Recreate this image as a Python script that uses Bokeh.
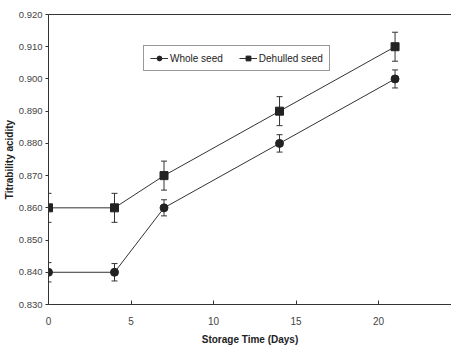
from bokeh.plotting import figure
from bokeh.models import (Range1d, LinearAxis, FixedTicker, PrintfTickFormatter,
                          Whisker, ColumnDataSource, Legend, LegendItem)
from bokeh.embed import file_html
from bokeh.resources import INLINE

days = [0, 4, 7, 14, 21]
whole = [0.840, 0.840, 0.860, 0.880, 0.900]
whole_err = [0.003, 0.0027, 0.0025, 0.0027, 0.0028]
dehulled = [0.860, 0.860, 0.870, 0.890, 0.910]
dehulled_err = [0.0045, 0.0045, 0.0045, 0.0045, 0.0045]
y_ticks = [0.83, 0.84, 0.85, 0.86, 0.87, 0.88, 0.89, 0.90, 0.91, 0.92]
x_ticks = [0, 5, 10, 15, 20]

C = "#333333"
FONT = "Liberation Sans"

p = figure(width=451, height=347, output_backend="svg", toolbar_location=None,
           x_range=Range1d(0, 24.42), y_range=Range1d(0.83, 0.92),
           min_border_left=48, min_border_right=0, min_border_top=14, min_border_bottom=42)
p.xgrid.visible = False
p.ygrid.visible = False
p.outline_line_color = None
p.background_fill_color = "white"

p.xaxis.ticker = FixedTicker(ticks=x_ticks)
p.yaxis.ticker = FixedTicker(ticks=y_ticks)
p.yaxis.formatter = PrintfTickFormatter(format="%.3f")
for ax in (p.xaxis[0], p.yaxis[0]):
    ax.axis_line_color = C
    ax.major_tick_line_color = C
    ax.minor_tick_line_color = None
    ax.major_label_text_font = FONT
    ax.major_label_text_font_size = "9.5px"
    ax.major_label_text_color = "#444444"
    ax.axis_label_text_font = FONT
    ax.axis_label_text_font_size = "10px"
    ax.axis_label_text_font_style = "bold"
    ax.axis_label_text_color = "#222222"
p.xaxis.major_label_text_font_size = "10px"
p.xaxis.major_tick_in = 4
p.xaxis.major_tick_out = 0
p.yaxis.major_tick_in = 0
p.yaxis.major_tick_out = 3
p.yaxis.major_label_standoff = 3
p.xaxis.major_label_standoff = 12
p.xaxis.axis_label = "Storage Time (Days)"
p.yaxis.axis_label = "Titrability acidity"
p.xaxis.axis_label_standoff = 6
p.yaxis.axis_label_standoff = 1

top = LinearAxis(major_tick_line_color=None, minor_tick_line_color=None,
                 major_label_text_font_size="0px", axis_line_color=C,
                 major_label_text_alpha=0)
top.ticker = FixedTicker(ticks=[])
p.add_layout(top, "above")

src_w = ColumnDataSource(dict(x=days, y=whole,
                              lo=[v - e for v, e in zip(whole, whole_err)],
                              hi=[v + e for v, e in zip(whole, whole_err)]))
src_d = ColumnDataSource(dict(x=days, y=dehulled,
                              lo=[v - e for v, e in zip(dehulled, dehulled_err)],
                              hi=[v + e for v, e in zip(dehulled, dehulled_err)]))

for src in (src_w, src_d):
    w = Whisker(source=src, base="x", lower="lo", upper="hi", line_color=C, line_width=1)
    w.upper_head.size = 6
    w.lower_head.size = 6
    w.upper_head.line_color = C
    w.lower_head.line_color = C
    p.add_layout(w)

lw = p.line("x", "y", source=src_w, line_color=C, line_width=1)
sw = p.scatter("x", "y", source=src_w, marker="circle", size=8, color="#222222")
ld = p.line("x", "y", source=src_d, line_color=C, line_width=1)
sd = p.scatter("x", "y", source=src_d, marker="square", size=8, color="#222222")

legend = Legend(items=[LegendItem(label="Whole seed", renderers=[lw, sw]),
                       LegendItem(label="Dehulled seed", renderers=[ld, sd])],
                orientation="horizontal", location=(95, 233),
                label_text_font=FONT, label_text_font_size="10px",
                label_text_color="#222222",
                border_line_color="#333333", border_line_width=1,
                glyph_width=18, glyph_height=12, spacing=16,
                padding=6, margin=0, label_standoff=2, label_height=12)
p.add_layout(legend, "center")

open("out.html", "w").write(file_html(p, INLINE))
